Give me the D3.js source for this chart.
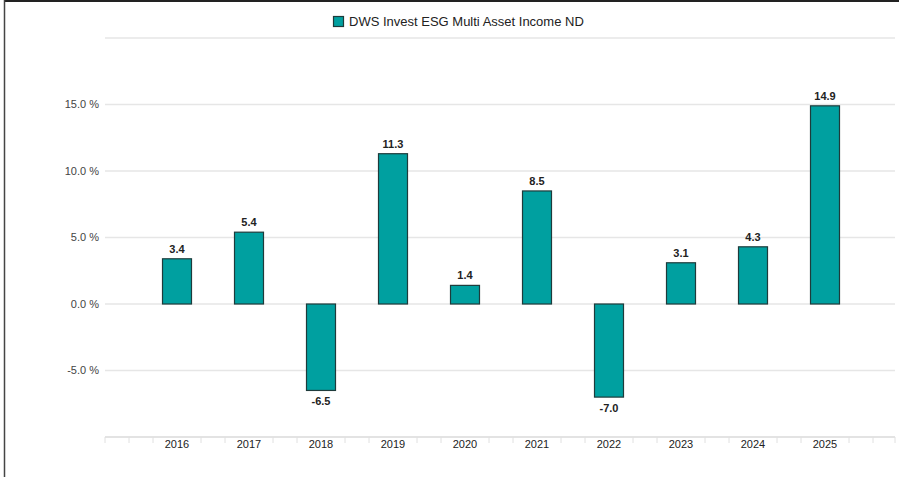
<!DOCTYPE html>
<html lang="en">
<head>
<meta charset="utf-8">
<title>DWS Invest ESG Multi Asset Income ND</title>
<script src="https://d3js.org/d3.v7.min.js"></script>
<style>
body { margin: 0; background: #fff; font-family: "Liberation Sans", Arial, sans-serif; }
</style>
</head>
<body>
<div id="chart"></div>
<script>
// data
var years = [2016, 2017, 2018, 2019, 2020, 2021, 2022, 2023, 2024, 2025];
var returns = [3.4, 5.4, -6.5, 11.3, 1.4, 8.5, -7.0, 3.1, 4.3, 14.9];
var yTicks = [-5, 0, 5, 10, 15];
var seriesName = "DWS Invest ESG Multi Asset Income ND";

var W = 899, H = 477;
var barColor = "#00a0a0", barStroke = "#1e3b3b";

var svg = d3.select("#chart").append("svg")
    .attr("width", W).attr("height", H);

// frame lines (top + left)
svg.append("line").attr("x1", 4).attr("x2", W).attr("y1", 1).attr("y2", 1)
    .attr("stroke", "#222").attr("stroke-width", 2);
svg.append("line").attr("x1", 4.5).attr("x2", 4.5).attr("y1", 0).attr("y2", H)
    .attr("stroke", "#444").attr("stroke-width", 1.5);

var x = d3.scaleLinear().domain([2015, 2026]).range([105, 897]);
var y = d3.scaleLinear().domain([-10, 20]).range([437, 38]);

// gridlines
svg.append("g").selectAll("line")
  .data(yTicks.concat([20]))
  .enter().append("line")
    .attr("x1", 105).attr("x2", 895)
    .attr("y1", function(d) { return y(d); })
    .attr("y2", function(d) { return y(d); })
    .attr("stroke", "#e6e6e6").attr("stroke-width", 1.5);

// y labels
svg.append("g").selectAll("text")
  .data(yTicks)
  .enter().append("text")
    .attr("x", 99)
    .attr("y", function(d) { return y(d); })
    .attr("dy", "0.35em")
    .attr("text-anchor", "end")
    .style("font-size", "11px")
    .style("fill", "#444")
    .text(function(d) { return d.toFixed(1) + " %"; });

// x axis line + minor ticks
svg.append("line").attr("x1", 105).attr("x2", 895).attr("y1", 437).attr("y2", 437)
    .attr("stroke", "#e3e3e3").attr("stroke-width", 2);
var minor = d3.range(0, 34).map(function(i) { return 2015 + i / 3; })
    .filter(function(v, i) { return i % 3 !== 0 || i === 0 || i === 33; });
svg.append("g").selectAll("line")
  .data(minor)
  .enter().append("line")
    .attr("x1", function(d) { return Math.min(x(d), 895); })
    .attr("x2", function(d) { return Math.min(x(d), 895); })
    .attr("y1", 437).attr("y2", 443)
    .attr("stroke", "#e0e0e0").attr("stroke-width", 1);

svg.append("g").selectAll("text")
  .data(years)
  .enter().append("text")
    .attr("x", function(d) { return x(d); })
    .attr("y", 444)
    .attr("dy", "0.35em")
    .attr("text-anchor", "middle")
    .style("font-size", "11px")
    .style("fill", "#222")
    .text(function(d) { return d; });

// bars
var bw = 29;
svg.append("g").selectAll("rect")
  .data(returns)
  .enter().append("rect")
    .attr("x", function(d, i) { return x(years[i]) - bw / 2; })
    .attr("y", function(d) { return y(Math.max(d, 0)); })
    .attr("width", bw)
    .attr("height", function(d) { return Math.abs(y(d) - y(0)); })
    .attr("fill", barColor)
    .attr("stroke", barStroke)
    .attr("stroke-width", 1.2);

// value labels
svg.append("g").selectAll("text")
  .data(returns)
  .enter().append("text")
    .attr("x", function(d, i) { return x(years[i]); })
    .attr("y", function(d) { return d >= 0 ? y(d) - 10 : y(d) + 11; })
    .attr("dy", "0.35em")
    .attr("text-anchor", "middle")
    .style("font-size", "11px")
    .style("font-weight", "bold")
    .style("fill", "#222")
    .text(function(d) { return d.toFixed(1); });

// legend
svg.append("rect").attr("x", 333.5).attr("y", 16.5).attr("width", 10).attr("height", 10)
    .attr("fill", barColor).attr("stroke", barStroke).attr("stroke-width", 1.2);
svg.append("text").attr("x", 349).attr("y", 21.5).attr("dy", "0.35em")
    .style("font-size", "13px").style("fill", "#222")
    .text(seriesName);
</script>
</body>
</html>
